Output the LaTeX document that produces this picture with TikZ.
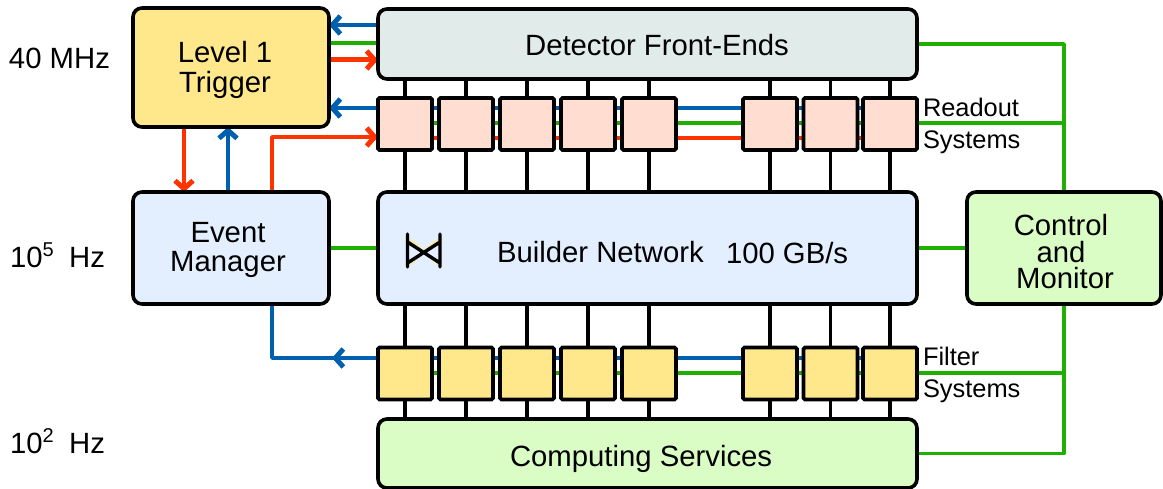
\documentclass[tikz,border=0pt]{standalone}
\usepackage{fontspec}
\setmainfont{Liberation Sans}
\usetikzlibrary{arrows.meta}
\pgfdeclarelayer{bg}
\pgfsetlayers{bg,main}
\definecolor{cblue}{HTML}{0060B0}
\definecolor{cgreen}{HTML}{20AE00}
\definecolor{cred}{HTML}{FF3300}
\definecolor{cyellow}{HTML}{FFE88C}
\definecolor{cgrey}{HTML}{E1EBE9}
\definecolor{cpink}{HTML}{FFDDD0}
\definecolor{cpale}{HTML}{E3EFFE}
\definecolor{clime}{HTML}{D9FDC4}
\tikzset{
  x=1pt,y=-1pt,
  bigbox/.style={draw=black,line width=3.6pt,rounded corners=9pt,inner sep=0pt,outer sep=0pt},
  lanebox/.style={draw=black,line width=3.6pt,rounded corners=1.5pt,inner sep=0pt,outer sep=0pt,minimum width=54pt,minimum height=52pt},
  rdbox/.style={lanebox,fill=cpink},
  ftbox/.style={lanebox,fill=cyellow},
  boxtxt/.style={inner sep=0pt,outer sep=0pt,align=center,font=\fontsize{29.3}{30.5}\selectfont},
  ctltxt/.style={inner sep=0pt,outer sep=0pt,align=center,font=\fontsize{29.3}{26.5}\selectfont},
  txt/.style={inner sep=0pt,outer sep=0pt,anchor=base west,font=\fontsize{29.3}{30}\selectfont},
  smalltxt/.style={inner sep=0pt,outer sep=0pt,anchor=base west,font=\fontsize{25.4}{26}\selectfont},
  bl/.style={draw=cblue,line width=3.4pt},
  gr/.style={draw=cgreen,line width=3.4pt},
  re/.style={draw=cred,line width=3.4pt},
  bk/.style={draw=black,line width=3.4pt},
  barb/.style={-{Straight Barb[length=8pt,width=18pt,line width=5pt]}},
}
\newcommand{\supnum}[1]{\raisebox{11pt}{\fontsize{20}{20}\selectfont #1}}
\begin{document}
\begin{tikzpicture}
\useasboundingbox (0,0) rectangle (1163,489);
% large boxes
\node[bigbox,fill=cyellow,minimum width=196pt,minimum height=119pt] (l1) at (231,67.5) {};
\node[bigbox,fill=cgrey,minimum width=539pt,minimum height=70pt] (fe) at (647.5,44) {};
\node[bigbox,fill=cpale,minimum width=196pt,minimum height=112pt] (em) at (231,248) {};
\node[bigbox,fill=cpale,minimum width=539pt,minimum height=112pt] (bn) at (647.5,248) {};
\node[bigbox,fill=clime,minimum width=194pt,minimum height=112pt] (cm) at (1064,248) {};
\node[bigbox,fill=clime,minimum width=539pt,minimum height=69pt] (cs) at (647.5,453.5) {};
% readout and filter boxes
\node[rdbox] (r1) at (405,124) {};
\node[rdbox] (r2) at (466,124) {};
\node[rdbox] (r3) at (527,124) {};
\node[rdbox] (r4) at (588,124) {};
\node[rdbox] (r5) at (649,124) {};
\node[rdbox] (r6) at (770,124) {};
\node[rdbox] (r7) at (830.5,124) {};
\node[rdbox] (r8) at (890,124) {};
\node[ftbox] (f1) at (405,373.5) {};
\node[ftbox] (f2) at (466,373.5) {};
\node[ftbox] (f3) at (527,373.5) {};
\node[ftbox] (f4) at (588,373.5) {};
\node[ftbox] (f5) at (649,373.5) {};
\node[ftbox] (f6) at (770,373.5) {};
\node[ftbox] (f7) at (830.5,373.5) {};
\node[ftbox] (f8) at (890,373.5) {};
% texts
\node[boxtxt] (tl) at (225,70) {Level 1\\Trigger};
\node[boxtxt] (tf) at (657,45.5) {Detector Front-Ends};
\node[boxtxt] (te) at (228,250) {Event\\[-1.5pt]Manager};
\node[ctltxt] (tm) at (1061,252) {Control\\and\\\hspace*{8pt}Monitor};
\node[txt] (t40) at (9,68.5) {40 MHz};
\node[txt] (t5) at (10,268) {10\supnum{5}\hspace{15.5pt}Hz};
\node[txt] (t2) at (10,453) {10\supnum{2}\hspace{15.5pt}Hz};
\node[txt] (tb) at (497,262.5) {Builder Network};
\node[txt] (tg) at (726,264) {100 GB/s};
\node[txt] (tc) at (510,466) {Computing Services};
\node[smalltxt] (ra) at (923,117) {Readout};
\node[smalltxt] (rb) at (923,148.5) {Systems};
\node[smalltxt] (fa) at (923,365) {Filter};
\node[smalltxt] (fb) at (923,397) {Systems};
% switch symbol
\fill[cyellow] (409,238) -- (424,250) -- (439,238) -- (439,242) -- (424,253) -- (409,242) -- cycle;
\fill[cyellow] (409,266) -- (424,254) -- (439,266) -- (439,262) -- (424,251) -- (409,262) -- cycle;
\draw[line width=3.4pt,line cap=round,line join=round] (407.5,234) -- (407.5,267) (440,234) -- (440,267)
  (407.5,263) -- (440,242) (407.5,242) -- (440,263);
\begin{pgfonlayer}{bg}
  % black verticals
  \foreach \n in {1,...,8}{
    \draw[bk] (r\n.north |- fe.south) -- (r\n.north);
    \draw[bk] (r\n.south) -- (r\n.south |- bn.north);
    \draw[bk] (f\n.north |- bn.south) -- (f\n.north);
    \draw[bk] (f\n.south) -- (f\n.south |- cs.north);
  }
  % trigger to detector
  \draw[bl,barb] (fe.west |- 0,25) -- (l1.east |- 0,25);
  \draw[gr] (l1.east |- 0,43) -- (fe.west |- 0,43);
  \draw[re,line width=5pt,barb] (l1.east |- 0,60) -- (fe.west |- 0,60);
  % readout buses
  \draw[bl,barb] (r1.west |- 0,108) -- (l1.east |- 0,108);
  \draw[bl] (r1.west |- 0,108) -- (r8.west |- 0,108);
  \draw[gr] (r1.west |- 0,123) -- (r8.east |- 0,123);
  \draw[re] (r1.west |- 0,138) -- (r8.west |- 0,138);
  % trigger and event manager
  \draw[re,barb] (184,0 |- l1.south) -- (184,0 |- em.north);
  \draw[bl,barb] (228,0 |- em.north) -- (228,0 |- l1.south);
  \draw[re,barb,line join=round] (272,0 |- em.north) |- (r1.west |- 0,137);
  % event manager to builder, builder to control
  \draw[gr] (em.east) -- (bn.west);
  \draw[gr] (bn.east) -- (cm.west);
  % filter buses
  \draw[bl,barb] (f1.west |- 0,358) -- (332,358);
  \draw[bl,line join=round] (f1.west |- 0,358) -| (272,0 |- em.south);
  \draw[bl] (f1.west |- 0,358) -- (f8.west |- 0,358);
  \draw[gr] (f1.west |- 0,373) -- (f8.east |- 0,373);
  % control network
  \draw[gr,line join=round] (fe.east) -| (cm.north);
  \draw[gr] (r8.east |- 0,123) -- (cm.north |- 0,123);
  \draw[gr,line join=round] (cm.south) |- (cs.east);
  \draw[gr] (f8.east |- 0,373) -- (cm.south |- 0,373);
\end{pgfonlayer}
\end{tikzpicture}
\end{document}
